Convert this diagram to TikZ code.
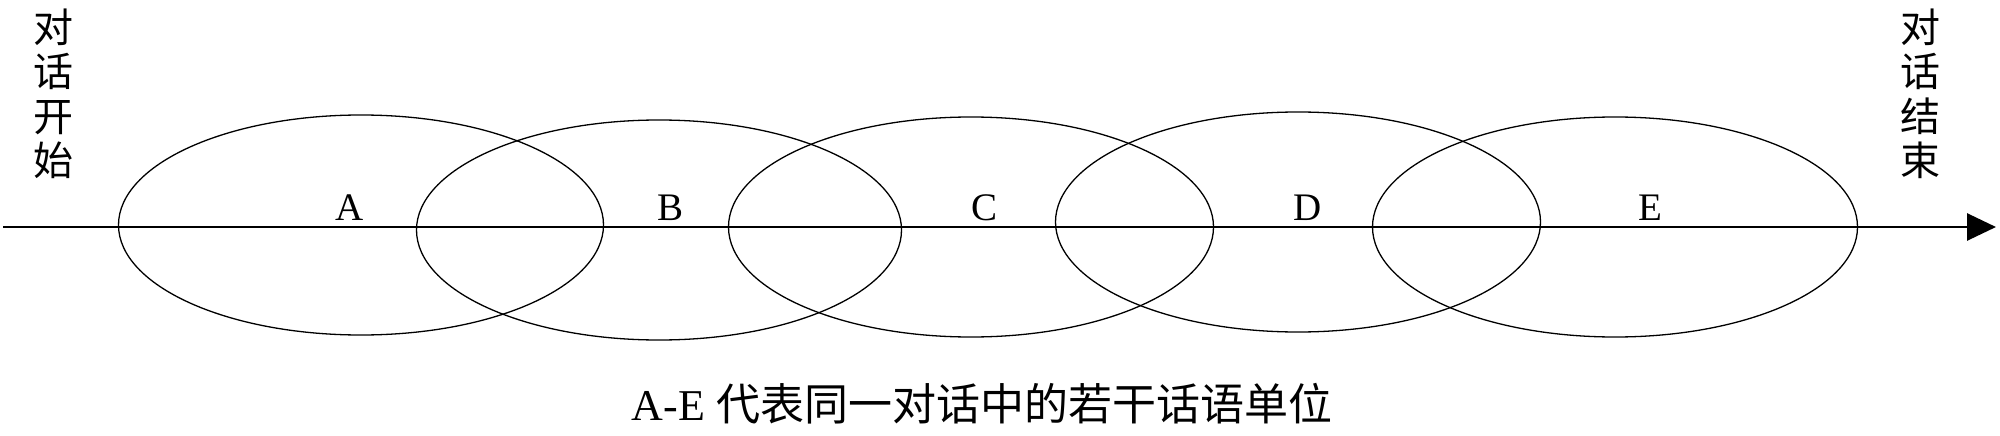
\documentclass[tikz,border=0pt]{standalone}
\usepackage{fontspec}
\setmainfont{Liberation Serif}
\newfontfamily\cjk{Noto Sans CJK SC}
\usetikzlibrary{arrows.meta,shapes.geometric}
\tikzset{
  unit/.style={draw=black, line width=1.3pt, ellipse, minimum width=485pt, minimum height=220pt, inner sep=0pt},
  letter/.style={anchor=base, inner sep=0pt, font=\fontsize{39}{39}\selectfont},
  vtext/.style={align=center, inner sep=0pt, font=\cjk\fontsize{40}{44.5}\selectfont},
  axis/.style={line width=2.8pt, -{Triangle[length=29pt,width=27pt]}}
}
\begin{document}
\begin{tikzpicture}[x=1pt,y=-1pt]
\useasboundingbox (0,0) rectangle (2000,436);
\node[unit] (eA) at (361,225) {};
\node[unit] (eB) at (659,230) {};
\node[unit] (eC) at (971,227) {};
\node[unit] (eD) at (1298,222) {};
\node[unit] (eE) at (1615,227) {};
\coordinate (start) at (3,227);
\coordinate (end) at (1996,227);
\draw[axis] (start) -- (end);
\node[letter] (lA) at (350,220) {A};
\node[letter] (lB) at (670,220) {B};
\node[letter] (lC) at (984,220) {C};
\node[letter] (lD) at (1308,220) {D};
\node[letter] (lE) at (1650,220) {E};
\node[vtext] (begin) at (53.5,94) {对\\话\\开\\始};
\node[vtext] (finish) at (1920,94) {对\\话\\结\\束};
\node[anchor=base, inner sep=0pt, font=\fontsize{44}{44}\selectfont] (caption) at (982,420) {A-E {\cjk 代表同一对话中的若干话语单位}};
\end{tikzpicture}
\end{document}
